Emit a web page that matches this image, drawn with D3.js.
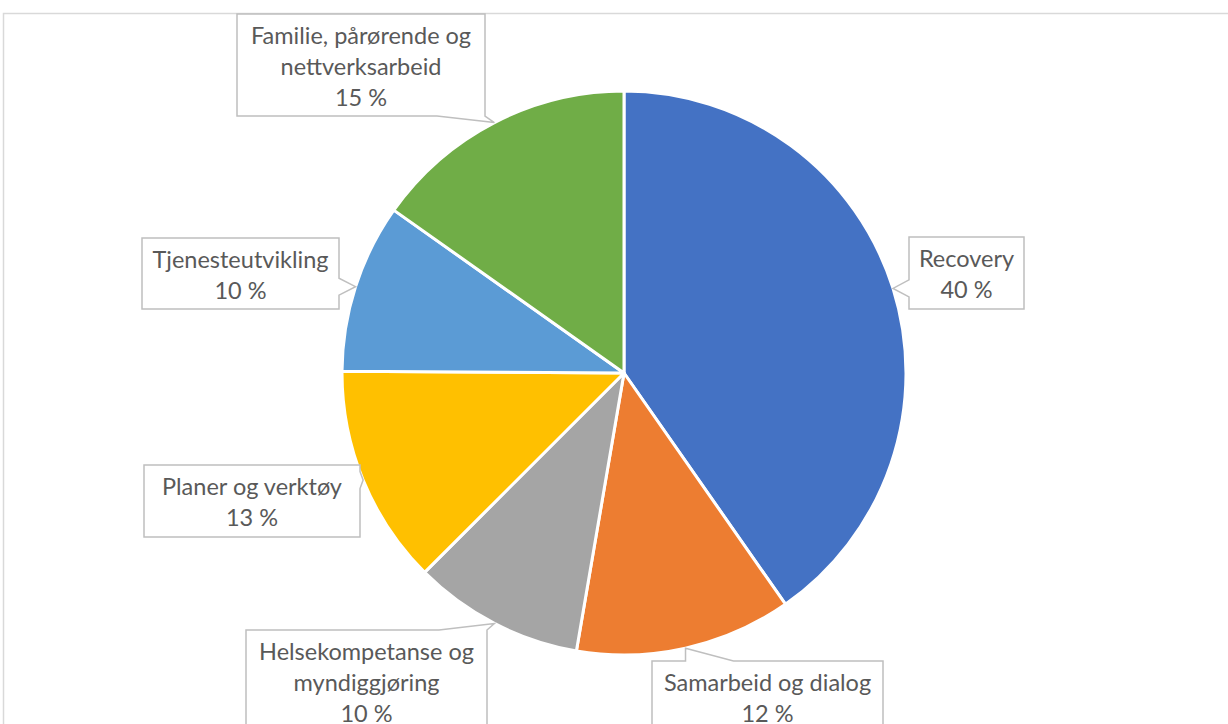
<!DOCTYPE html>
<html>
<head>
<meta charset="utf-8">
<script src="https://cdn.jsdelivr.net/npm/d3@7"></script>
<style>
  body { margin: 0; background: #fff; }
  svg { display: block; }
</style>
</head>
<body>
<svg id="chart" width="1228" height="724"></svg>
<script>
// data (shares in %, labels show rounded values)
var categories = ["Recovery", "Samarbeid og dialog", "Helsekompetanse og myndiggjøring",
	"Planer og verktøy", "Tjenesteutvikling", "Familie, pårørende og nettverksarbeid"];
var shares = [40.3, 12.4, 9.8, 12.6, 9.7, 15.2];
var labelLines = [["Recovery"], ["Samarbeid og dialog"], ["Helsekompetanse og", "myndiggjøring"],
	["Planer og verktøy"], ["Tjenesteutvikling"], ["Familie, pårørende og", "nettverksarbeid"]];
var colours = ["#4472C4", "#ED7D31", "#A5A5A5", "#FFC000", "#5B9BD5", "#70AD47"];

// callout boxes as placed in the original sheet: [x, y, w, h]
var boxes = [
	[909, 237, 115, 72],
	[652, 661, 231, 72],
	[246, 630, 241, 102],
	[144, 465, 216, 72],
	[142, 238, 197, 71],
	[237, 14, 248, 102]
];

var svg = d3.select("#chart");
var cx = 624, cy = 373, r = 282;

// chart area border (runs off the right and bottom of the picture)
svg.append("rect")
	.attr("x", 3.5).attr("y", 13.5)
	.attr("width", 1400).attr("height", 900)
	.attr("fill", "none")
	.attr("stroke", "#d9d9d9")
	.attr("stroke-width", 1.5);

var pie = d3.pie().sort(null).value(d => d)(shares);
var arc = d3.arc().innerRadius(0).outerRadius(r);

var g = svg.append("g").attr("transform", `translate(${cx},${cy})`);

g.selectAll("path")
	.data(pie)
	.join("path")
	.attr("d", arc)
	.attr("fill", (d, i) => colours[i])
	.attr("stroke", "#fff")
	.attr("stroke-width", 3)
	.attr("stroke-linejoin", "round");

var fmt = d => Math.round(d) + " %";

// callout path: rectangle with a wedge to the slice edge
function callout(b, tip) {
	var x0 = b[0], y0 = b[1], x1 = b[0] + b[2], y1 = b[1] + b[3];
	var tx = tip[0], ty = tip[1];
	var pts;
	if (ty >= y0 && ty <= y1) {
		// wedge on left or right side
		var half = 8.5;
		var m = Math.max(y0 + half, Math.min(y1 - half, ty));
		if (tx < x0) {
			pts = [[x0, y0], [x1, y0], [x1, y1], [x0, y1], [x0, m + half], [tx, ty], [x0, m - half]];
		} else {
			pts = [[x0, y0], [x1, y0], [x1, m - half], [tx, ty], [x1, m + half], [x1, y1], [x0, y1]];
		}
	} else {
		// wedge on top or bottom, one foot under the tip, the other toward the middle
		var w = 48;
		var a = Math.max(x0 + 3, Math.min(x1, tx));
		var bx = a + (a < (x0 + x1) / 2 ? w : -w);
		var lo = Math.min(a, bx), hi = Math.max(a, bx);
		if (ty < y0) {
			pts = [[x0, y0], [lo, y0], [tx, ty], [hi, y0], [x1, y0], [x1, y1], [x0, y1]];
		} else {
			pts = [[x0, y0], [x1, y0], [x1, y1], [hi, y1], [tx, ty], [lo, y1], [x0, y1]];
		}
	}
	return "M" + pts.map(p => p.join(",")).join("L") + "Z";
}

var labels = svg.append("g")
	.selectAll("g")
	.data(pie)
	.join("g");

labels.append("path")
	.attr("d", (d, i) => {
		var mid = (d.startAngle + d.endAngle) / 2;
		var tip = [cx + r * Math.sin(mid), cy - r * Math.cos(mid)];
		return callout(boxes[i], tip);
	})
	.attr("fill", "#fff")
	.attr("stroke", "#bfbfbf")
	.attr("stroke-width", 1.5)
	.attr("stroke-linejoin", "miter");

labels.append("text")
	.attr("text-anchor", "middle")
	.attr("font-family", "Lato, 'Open Sans', sans-serif")
	.attr("font-size", 23.5)
	.attr("fill", "#595959")
	.selectAll("tspan")
	.data((d, i) => labelLines[i].concat([fmt(d.data)]).map(t => ({t: t, b: boxes[i]})))
	.join("tspan")
	.attr("x", d => d.b[0] + d.b[2] / 2)
	.attr("y", (d, j) => d.b[1] + 30 + j * 31)
	.text(d => d.t);
</script>
</body>
</html>
